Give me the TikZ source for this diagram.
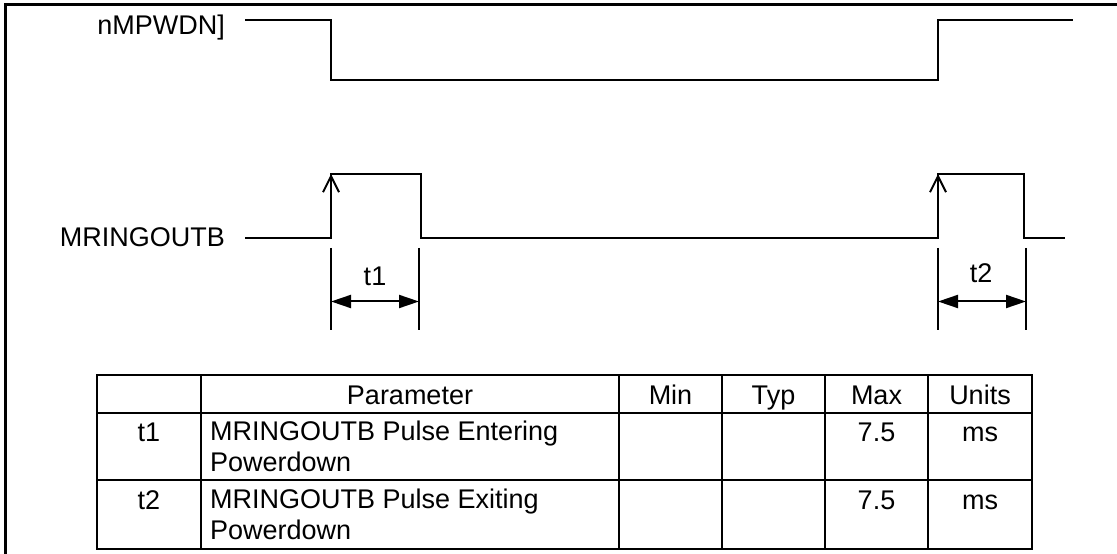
\documentclass[tikz,border=0pt]{standalone}
\usepackage{fontspec}
\setmainfont{Liberation Sans}
\usetikzlibrary{arrows.meta}

\begin{document}
\begin{tikzpicture}[>=latex,line join=miter,x=1bp,y=-1bp,
  every node/.style={font=\fontsize{27bp}{31bp}\selectfont,inner sep=0pt},
  wave/.style={line width=2bp},
  dimline/.style={line width=2bp,{Triangle[length=20bp,width=13bp]}-{Triangle[length=20bp,width=13bp]}},
  edgemark/.style={line width=2bp,-{Straight Barb[length=16bp,width=16bp]}},
  cell/.style={line width=2bp},
  celltext/.style={anchor=base}]
  \useasboundingbox (0,0) rectangle (1117,554);
  % Frame
  \draw [line width=3bp] (5.5,554) -- (5.5,4.5) -- (1117,4.5);
  % Signal: nMPWDN
  \node [anchor=east] (pwdn_label) at (225,28) {nMPWDN]};
  \draw [wave] (245,20.5) -- (331,20.5) -- (331,80) -- (938,80) -- (938,20.5) -- (1073,20.5);
  % Signal: MRINGOUTB
  \node [anchor=east] (ring_label) at (225,237) {MRINGOUTB};
  \draw [wave] (245,238) -- (331,238) -- (331,174) -- (421,174) -- (421,238) -- (938,238) -- (938,174) -- (1024,174) -- (1024,238) -- (1065,238);
  \coordinate (ring_rise1) at (331,238);
  \coordinate (ring_high1) at (331,174);
  \coordinate (ring_rise2) at (938,238);
  \coordinate (ring_high2) at (938,174);
  \draw [edgemark] (ring_rise1) -- (ring_high1);
  \draw [edgemark] (ring_rise2) -- (ring_high2);
  % Timing: t1
  \coordinate (t1_start) at (331,301.5);
  \coordinate (t1_end) at (419,301.5);
  \draw [wave] (331,248) -- (331,330);
  \draw [wave] (419,248) -- (419,330);
  \draw [dimline] (t1_start) -- (t1_end);
  \node (t1_label) at (375,276) {t1};
  % Timing: t2
  \coordinate (t2_start) at (938,301.5);
  \coordinate (t2_end) at (1026,301.5);
  \draw [wave] (938,248) -- (938,330);
  \draw [wave] (1026,248) -- (1026,330);
  \draw [dimline] (t2_start) -- (t2_end);
  \node (t2_label) at (981,273) {t2};
  % Table: grid
  \draw [cell] (97,375) rectangle (1032,549);
  \draw [cell] (97,413) -- (1032,413);
  \draw [cell] (97,480) -- (1032,480);
  \draw [cell] (201,375) -- (201,549);
  \draw [cell] (619,375) -- (619,549);
  \draw [cell] (722,375) -- (722,549);
  \draw [cell] (825,375) -- (825,549);
  \draw [cell] (928,375) -- (928,549);
  % Table: header
  \node [celltext] (hdr_param) at (410,404) {Parameter};
  \node [celltext] (hdr_min) at (670.5,404) {Min};
  \node [celltext] (hdr_typ) at (773.5,404) {Typ};
  \node [celltext] (hdr_max) at (876.5,404) {Max};
  \node [celltext] (hdr_units) at (980,404) {Units};
  % Table: row t1
  \node [celltext] (row1_sym) at (149,441) {t1};
  \node [anchor=west,align=left] (row1_param) at (210,446.5) {MRINGOUTB Pulse Entering\\Powerdown};
  \node [celltext] (row1_max) at (876.5,441) {7.5};
  \node [celltext] (row1_units) at (980,441) {ms};
  % Table: row t2
  \node [celltext] (row2_sym) at (149,509) {t2};
  \node [anchor=west,align=left] (row2_param) at (210,514.5) {MRINGOUTB Pulse Exiting\\Powerdown};
  \node [celltext] (row2_max) at (876.5,509) {7.5};
  \node [celltext] (row2_units) at (980,509) {ms};
%
\end{tikzpicture}
\end{document}
